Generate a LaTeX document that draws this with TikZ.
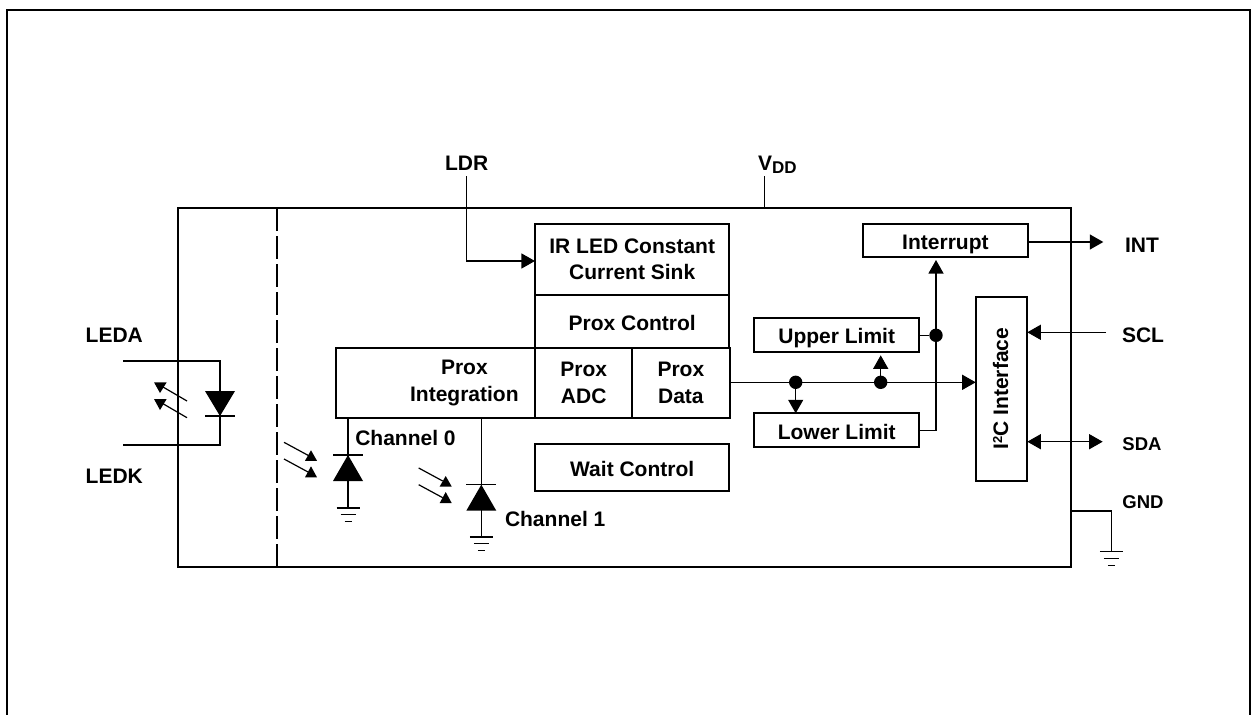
\documentclass[tikz,border=0pt]{standalone}
\usepackage{fontspec}
\setmainfont{Liberation Sans}
\usetikzlibrary{arrows.meta}
\newcommand{\lowertext}[1]{\raisebox{-1.8pt}{#1}}
\tikzset{
  x=1pt,y=-1pt,
  every node/.style={font=\fontsize{21}{26.5}\selectfont\bfseries,inner sep=0pt,outer sep=0pt},
  mainline/.style={line width=2.4pt},
  wire/.style={line width=1.2pt},
  blockbox/.style={draw,line width=2pt,align=center,minimum width=#1},
  oneline/.style={text height=17.5pt,text depth=0pt},
  lbl/.style={anchor=base},
  tip/.style={-{Triangle[width=15pt,length=13.5pt]}},
  tips/.style={{Triangle[width=15pt,length=13.5pt]}-{Triangle[width=15pt,length=13.5pt]}},
  dot/.style={circle,fill=black,minimum size=13.4pt},
  pics/gndsym/.style={code={
    \draw[wire] (-11.5,0) -- (11.5,0);
    \draw[wire] (-7.5,6.8) -- (7.5,6.8);
    \draw[wire] (-3.5,13.5) -- (3.5,13.5);
  }},
  pics/diodeup/.style={code={
    \fill (0,0) -- (15,26) -- (-15,26) -- cycle;
    \draw[wire] (-15,0) -- (15,0);
  }},
  pics/diodedown/.style={code={
    \fill (0,0) -- (15,-25) -- (-15,-25) -- cycle;
    \draw[wire] (-15,0) -- (15,0);
  }},
  pics/raypair/.style={code={
    \draw[wire] (0,0) -- (24,13);
    \fill (21,18.5) -- (33,18.5) -- (27,8) -- cycle;
    \draw[wire] (0,16.7) -- (24,29.7);
    \fill (21,35) -- (33,35) -- (27,24) -- cycle;
  }},
  pics/raypairback/.style={code={
    \draw[wire] (0,0) -- (-24,-14);
    \fill (-33,-18.7) -- (-20.3,-18.7) -- (-27,-8) -- cycle;
    \draw[wire] (0,16.7) -- (-24,2.7);
    \fill (-33,-2) -- (-20.3,-2) -- (-27,9) -- cycle;
  }},
}
\begin{document}
\begin{tikzpicture}
\useasboundingbox (0,0) rectangle (1251,715);
% page frame
\coordinate (fa) at (7,715);
\coordinate (fb) at (7,10);
\coordinate (fc) at (1250,10);
\coordinate (fd) at (1250,715);
\draw[line width=2.2pt,line join=miter] (fa) -- (fb) -- (fc) -- (fd);
% main outline
\node[draw,mainline,minimum width=893pt,minimum height=359pt] (main) at (624.5,387.5) {};
\coordinate (dashtop) at (277,208);
\coordinate (dashbot) at (277,567);
\draw[line width=2.2pt,dash pattern=on 23pt off 5pt] (dashtop) -- (dashbot);
% blocks
\node[blockbox=194.5pt,minimum height=71pt] (ir) at (632.2,259.5) {IR LED Constant\\Current Sink};
\node[blockbox=194.5pt,minimum height=53pt,oneline] (ctrl) at (632.2,321.5) {Prox Control};
\node[blockbox=199.3pt,minimum height=69.5pt] (integ) at (435.4,382.8) {\hspace*{58pt}\raisebox{-0.8pt}{Prox}\\\hspace*{58pt}\raisebox{-0.8pt}{Integration}};
\node[blockbox=97.3pt,minimum height=69.5pt] (adc) at (583.7,382.8) {\lowertext{Prox}\\\lowertext{ADC}};
\node[blockbox=97.2pt,minimum height=69.5pt] (data) at (680.9,382.8) {\lowertext{Prox}\\\lowertext{Data}};
\node[blockbox=194.5pt,minimum height=47pt,oneline] (wait) at (632.2,467.7) {Wait Control};
\node[blockbox=164.7pt,minimum height=33pt,oneline] (intr) at (945.4,240.3) {Interrupt};
\node[blockbox=164.7pt,minimum height=33.5pt,oneline] (upper) at (836.7,335) {Upper Limit};
\node[blockbox=164.7pt,minimum height=34pt,oneline] (lower) at (836.7,430.3) {Lower Limit};
\node[blockbox=51.6pt,minimum height=183.4pt] (i2c) at (1001.5,389) {};
\node[rotate=90] (i2ct) at (1000.5,388.7) {I\raisebox{6pt}{\fontsize{13}{13}\selectfont 2}C Interface};
% labels
\node[lbl] (ldr) at (466.7,170.7) {LDR};
\node[lbl,anchor=base west] (vdd) at (758,170) {V\raisebox{-3.3pt}{\fontsize{17}{17}\selectfont DD}};
\node[lbl] (leda) at (114.3,342.7) {LEDA};
\node[lbl] (ledk) at (114.3,483.3) {LEDK};
\node[lbl,anchor=base west] (ch0) at (355.3,445.7) {Channel 0};
\node[lbl,anchor=base west] (ch1) at (505,526) {Channel 1};
\node[lbl] (int) at (1142,252.7) {INT};
\node[lbl] (scl) at (1143,342.7) {SCL};
\node[lbl,font=\fontsize{18.5}{22}\selectfont\bfseries] (sda) at (1142,450) {SDA};
\node[lbl,font=\fontsize{18.5}{22}\selectfont\bfseries] (gnd) at (1143,508.3) {GND};
% LDR and VDD
\coordinate (ldrtop) at (466.7,176);
\coordinate (ldrturn) at (466.7,261);
\draw[wire,tip] (ldrtop) -- (ldrturn) -- (ir.west |- ldrturn);
\coordinate (vddtop) at (764.7,176);
\draw[wire] (vddtop) -- (vddtop |- main.north);
% LED
\coordinate (ledaend) at (123,361);
\coordinate (ledaturn) at (220,361);
\coordinate (ledkend) at (123,445);
\coordinate (ledkturn) at (220,445);
\coordinate (ledbar) at (220,416);
\draw[wire] (ledaend) -- (ledaturn) -- (ledbar) -- (ledkturn) -- (ledkend);
\pic at (ledbar) {diodedown};
\pic at (187,401) {raypairback};
% channel 0
\coordinate (pd0) at (348,455);
\coordinate (g0) at (348,508);
\draw[wire] (integ.south -| pd0) -- (g0);
\pic at (pd0) {diodeup};
\pic at (g0) {gndsym};
\pic at (284,442.3) {raypair};
% channel 1
\coordinate (pd1) at (481.3,484.7);
\coordinate (g1) at (481.3,537);
\draw[wire] (integ.south -| pd1) -- (g1);
\pic at (pd1) {diodeup};
\pic at (g1) {gndsym};
\pic at (418.7,468) {raypair};
% data bus
\coordinate (busy) at (729.5,382.3);
\draw[wire,tip] (data.east |- busy) -- (i2c.west |- busy);
\node[dot] (d1) at (795.7,382.3) {};
\node[dot] (d2) at (880.7,382.3) {};
\node[dot] (d3) at (936,335.3) {};
\draw[wire,tip] (d1) -- (d1 |- lower.north);
\draw[wire,tip] (d2) -- (880.7,355.3);
% interrupt tree
\coordinate (lturn) at (936,430.3);
\coordinate (ittip) at (936,260);
\draw[wire,tip] (lower.east |- lturn) -- (lturn) -- (ittip);
\draw[wire] (upper.east |- d3) -- (d3);
% pins
\coordinate (intend) at (1103.3,242);
\draw[wire,tip] (intr.east |- intend) -- (intend);
\coordinate (sclend) at (1106,332.3);
\draw[wire,tip] (sclend) -- (i2c.east |- sclend);
\coordinate (sdaend) at (1102.7,441.7);
\draw[wire,tips] (i2c.east |- sdaend) -- (sdaend);
\coordinate (gturn) at (1111.3,511);
\coordinate (g2) at (1111.3,551.7);
\draw[wire] (main.east |- gturn) -- (gturn) -- (g2);
\pic at (g2) {gndsym};
\end{tikzpicture}
\end{document}
